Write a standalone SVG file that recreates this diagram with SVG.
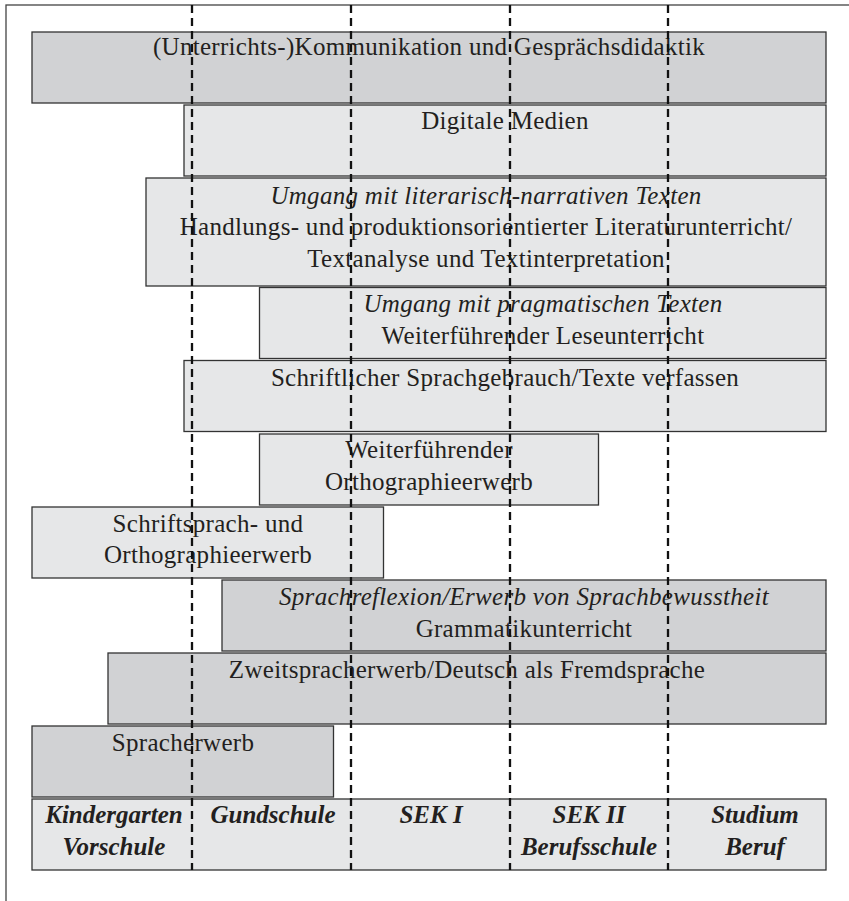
<svg xmlns="http://www.w3.org/2000/svg" width="849" height="901" viewBox="0 0 849 901">
<style>
.dark{fill:#d1d2d4;stroke:#333;stroke-width:1.3}
.light{fill:#e6e7e8;stroke:#333;stroke-width:1.3}
text{font-family:"Liberation Serif","Times New Roman",serif;font-size:25px;fill:#231f20;text-anchor:middle;letter-spacing:0.3px}
.it{font-style:italic}
.bi{font-style:italic;font-weight:bold;letter-spacing:0}
.dash{stroke:#111;stroke-width:2.3;stroke-dasharray:8 5;fill:none}
</style>
<rect x="6" y="5" width="860" height="910" fill="#fff" stroke="#444" stroke-width="1.3"/>
<g id="n1"><rect class="dark" x="32" y="32" width="794" height="71"/><text x="429" y="55">(Unterrichts-)Kommunikation und Gesprächsdidaktik</text></g>
<g id="n2"><rect class="light" x="184" y="105" width="642" height="71"/><text x="505" y="129">Digitale Medien</text></g>
<g id="n3"><rect class="light" x="146" y="178" width="680" height="108"/><text class="it" x="486" y="204">Umgang mit literarisch-narrativen Texten</text><text x="486" y="235">Handlungs- und produktionsorientierter Literaturunterricht/</text><text x="486" y="267">Textanalyse und Textinterpretation</text></g>
<g id="n4"><rect class="light" x="259.5" y="287.5" width="566.5" height="71"/><text class="it" x="543" y="312">Umgang mit pragmatischen Texten</text><text x="543" y="344">Weiterführender Leseunterricht</text></g>
<g id="n5"><rect class="light" x="184" y="360.5" width="642" height="71"/><text x="505" y="386">Schriftlicher Sprachgebrauch/Texte verfassen</text></g>
<g id="n6"><rect class="light" x="259.5" y="434" width="339" height="71"/><text x="429" y="458">Weiterführender</text><text x="429" y="490">Orthographieerwerb</text></g>
<g id="n7"><rect class="light" x="32" y="507" width="351.5" height="71"/><text x="208" y="532">Schriftsprach- und</text><text x="208" y="563">Orthographieerwerb</text></g>
<g id="n8"><rect class="dark" x="222" y="580" width="604" height="71"/><text class="it" x="524" y="605">Sprachreflexion/Erwerb von Sprachbewusstheit</text><text x="524" y="637">Grammatikunterricht</text></g>
<g id="n9"><rect class="dark" x="108" y="653" width="718" height="71"/><text x="467" y="678">Zweitspracherwerb/Deutsch als Fremdsprache</text></g>
<g id="n10"><rect class="dark" x="32" y="726" width="301.5" height="71"/><text x="183" y="751">Spracherwerb</text></g>
<g id="axis"><rect class="light" x="32" y="799" width="794" height="71"/>
<text class="bi" x="114" y="823">Kindergarten</text><text class="bi" x="114" y="855">Vorschule</text>
<text class="bi" x="273" y="823">Gundschule</text>
<text class="bi" x="431" y="823">SEK I</text>
<text class="bi" x="589" y="823">SEK II</text><text class="bi" x="589" y="855">Berufsschule</text>
<text class="bi" x="755" y="823">Studium</text><text class="bi" x="755" y="855">Beruf</text></g>
<g id="connectors">
<line class="dash" x1="192" y1="5" x2="192" y2="870"/>
<line class="dash" x1="351" y1="5" x2="351" y2="870"/>
<line class="dash" x1="510" y1="5" x2="510" y2="870"/>
<line class="dash" x1="668" y1="5" x2="668" y2="870"/>
</g>
</svg>
